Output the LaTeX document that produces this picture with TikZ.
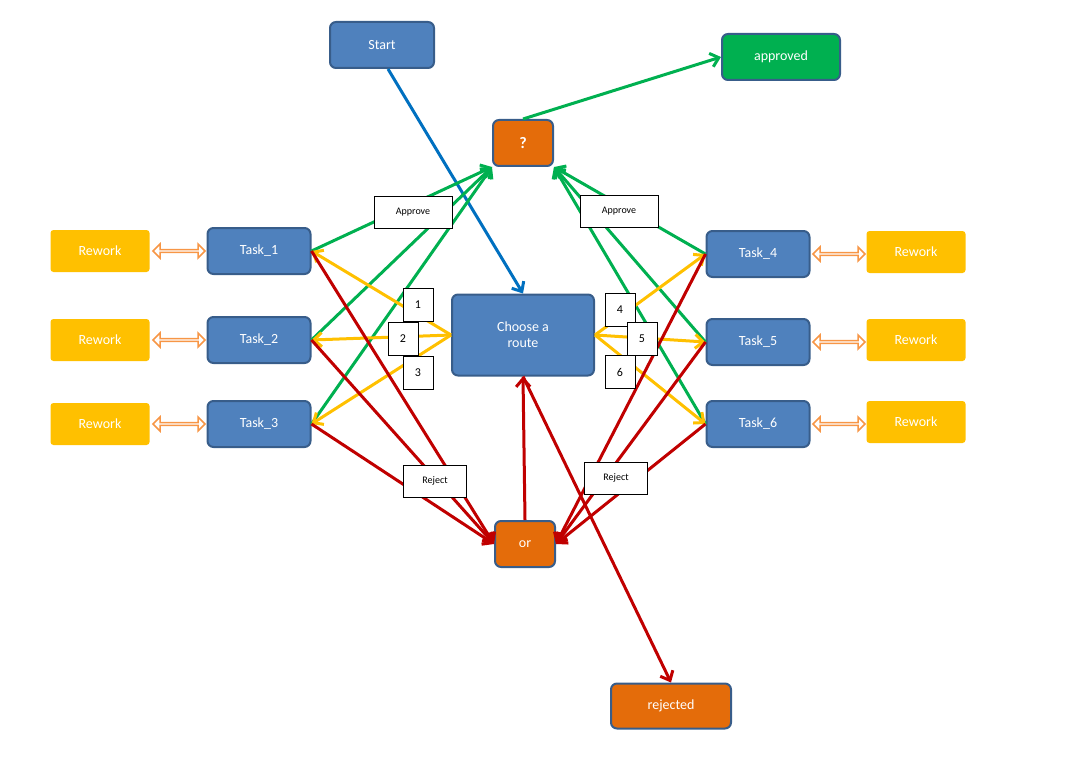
\documentclass[tikz,border=0pt]{standalone}
\usepackage{fontspec}
\setmainfont{Carlito}
\usetikzlibrary{arrows.meta,shapes.arrows}
\definecolor{boxblue}{RGB}{79,129,189}
\definecolor{boxedge}{RGB}{56,93,138}
\definecolor{boxorange}{RGB}{228,108,10}
\definecolor{boxgreen}{RGB}{0,176,80}
\definecolor{boxyellow}{RGB}{255,192,0}
\definecolor{lgreen}{RGB}{0,176,80}
\definecolor{lred}{RGB}{192,0,0}
\definecolor{lblue}{RGB}{0,112,192}
\definecolor{lorange}{RGB}{247,150,70}

\begin{document}
\begin{tikzpicture}[x=1pt,y=-1pt,line width=3pt,>={Straight Barb[length=8pt,width=14pt]}]
    \tikzstyle{box}=[rounded corners=6pt,draw=boxedge,line width=2pt,text=white,
        font=\fontsize{14}{16}\selectfont,minimum height=46pt,align=center]
    \tikzstyle{task}=[box,fill=boxblue,minimum width=103pt]
    \tikzstyle{gate}=[box,fill=boxorange,minimum width=60pt]
    \tikzstyle{rework}=[rounded corners=3pt,fill=boxyellow,text=white,
        font=\fontsize{14}{16}\selectfont,minimum width=99pt,minimum height=42pt]
    \tikzstyle{tag}=[draw=black,line width=0.6pt,fill=white,inner sep=0pt,
        font=\fontsize{10}{12}\selectfont]
    \tikzstyle{num}=[tag,minimum width=30pt,minimum height=33pt,font=\fontsize{12}{14}\selectfont]
    \tikzstyle{swap}=[double arrow,draw=lorange,fill=white,line width=1.5pt,
        minimum width=14pt,minimum height=52pt,double arrow head extend=3pt,inner sep=0pt]

    \useasboundingbox (0,0) rectangle (1074,757);

    % Main nodes
    \node[task,minimum width=104pt] (start) at (382,45) {Start};
    \node[box,fill=boxgreen,minimum width=118pt] (approved) at (781,57) {approved};
    \node[gate,font=\bfseries\fontsize{16}{18}\selectfont] (check) at (523,143) {?};
    \node[task,minimum width=142pt,minimum height=81pt] (route) at (523,335) {Choose a\\route};
    \node[gate] (or) at (525,544) {or};
    \node[gate,minimum width=120pt,minimum height=45pt] (rejected) at (671,706) {rejected};

    % Tasks with their rework boxes
    \foreach \name / \y in {1/251,2/340,3/424}{
        \node[task] (T-\name) at (259,\y) {Task\_\name};
        \node[rework] (R-\name) at (100,\y) {Rework};
        \node[swap] at (179,\y) {};
    }
    \foreach \name / \y in {4/254,5/342,6/424}{
        \node[task] (T-\name) at (758,\y) {Task\_\name};
        \node[rework] (R-\name) at (916,\y-2) {Rework};
        \node[swap] at (839,\y) {};
    }

    % Start and outcome
    \draw[->,lblue] (start.south) ++(6,0) -- (route.north);
    \draw[->,lgreen] (check.north) -- (approved.west);

    % Approve paths
    \foreach \source in {1,2,3}
        \draw[->,lgreen] (T-\source.east) -- (check.south west);
    \foreach \source in {4,5,6}
        \draw[->,lgreen] (T-\source.west) -- (check.south east);

    % Route choices
    \foreach \dest in {1,2,3}
        \draw[->,boxyellow] (route.west) -- (T-\dest.east);
    \foreach \dest in {4,5,6}
        \draw[->,boxyellow] (route.east) -- (T-\dest.west);

    % Reject paths
    \foreach \source in {1,2,3}
        \draw[->,lred] (T-\source.east) -- (or.west);
    \foreach \source in {4,5,6}
        \draw[->,lred] (T-\source.west) -- (or.east);
    \draw[->,lred] (or.north) -- (route.south);
    \draw[->,lred] (route.south) -- (rejected.north);

    % Labels
    \node[tag,minimum width=78pt,minimum height=32pt] at (413,212) {Approve};
    \node[tag,minimum width=78pt,minimum height=32pt] at (619,211) {Approve};
    \node[tag,minimum width=63pt,minimum height=32pt] at (435,481) {Reject};
    \node[tag,minimum width=63pt,minimum height=32pt] at (616,478) {Reject};
    \node[num] at (418,305) {1};
    \node[num] at (403,339) {2};
    \node[num] at (418,373) {3};
    \node[num] at (620,310) {4};
    \node[num] at (642,339) {5};
    \node[num] at (620,372) {6};
\end{tikzpicture}
\end{document}
